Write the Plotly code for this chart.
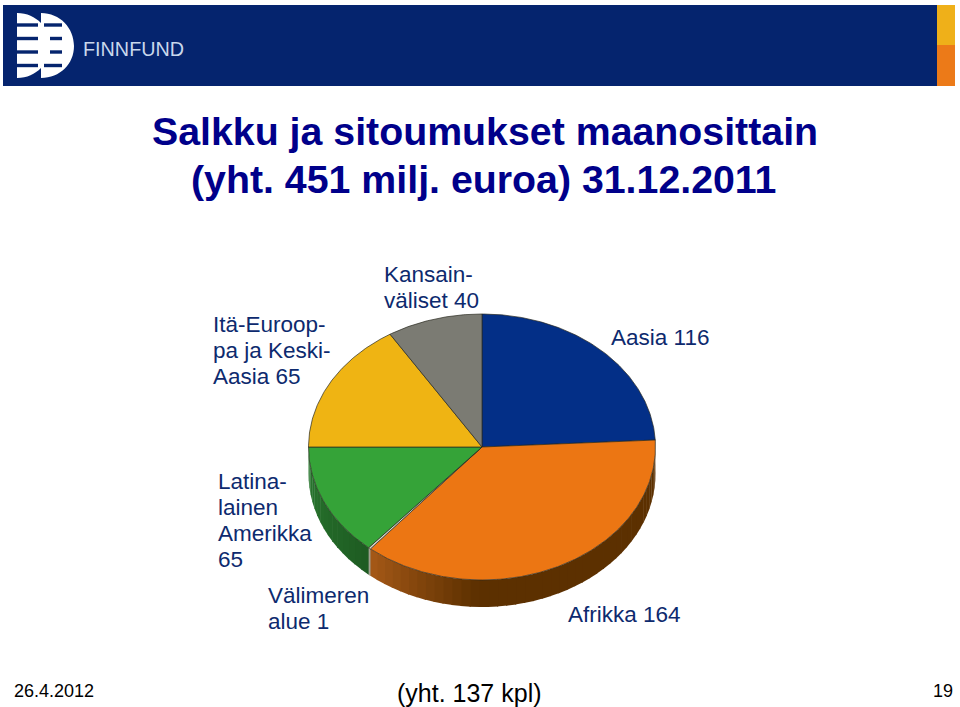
import numpy as np
import plotly.graph_objects as go

# ---- chart data -------------------------------------------------------
categories = ["Aasia", "Afrikka", "Välimeren alue", "Latinalainen Amerikka",
              "Itä-Eurooppa ja Keski-Aasia", "Kansainväliset"]
values = [116, 164, 1, 65, 65, 40]
# sweep of each slice as drawn in the picture (3-D view), degrees
drawn_sweep = [87.0, 133.0, 0.8, 49.2, 58.0, 32.0]
face_colors = ["#032f87", "#ec7613", "#d8d8c8", "#35a338", "#efb413", "#7b7b73"]
wall_start = ["#032f87", "#a85a18", "#a0a090", "#1e5c22", "#efb413", "#7b7b73"]
wall_end = ["#032f87", "#5c3000", "#a0a090", "#2a7a30", "#efb413", "#7b7b73"]

title_lines = ["Salkku ja sitoumukset maanosittain", "(yht. 451 milj. euroa) 31.12.2011"]
label_lines = [["Aasia 116"], ["Afrikka 164"], ["Välimeren", "alue 1"],
               ["Latina-", "lainen", "Amerikka", "65"],
               ["Itä-Euroop-", "pa ja Keski-", "Aasia 65"], ["Kansain-", "väliset 40"]]
label_x = [609, 566, 266, 216, 211, 382]
label_y = [337, 614, 595, 481, 324, 274]
LINE_STEP = 26.2

# ---- geometry of the tilted pie ---------------------------------------
CX, CY, RX, RY, DEPTH = 482.0, 447.0, 173.5, 133.0, 27.0


def ex(t):
    return CX + RX * np.sin(np.radians(t))


def ey(t):
    return CY - RY * np.cos(np.radians(t))


def mix(a, b, f):
    ca = [int(a[i:i + 2], 16) for i in (1, 3, 5)]
    cb = [int(b[i:i + 2], 16) for i in (1, 3, 5)]
    return "rgb(%d,%d,%d)" % tuple(round(x + (y - x) * f) for x, y in zip(ca, cb))


edges = np.concatenate([[0.0], np.cumsum(drawn_sweep)])
fig = go.Figure()

# side wall, drawn as many thin strips for the shaded look
for i, (a, b) in enumerate(zip(edges[:-1], edges[1:])):
    lo, hi = max(a, 90.0), min(b, 270.0)
    if lo >= hi:
        continue
    n = max(1, int((hi - lo) / 3))
    steps = np.linspace(lo, hi, n + 1)
    for j, (s0, s1) in enumerate(zip(steps[:-1], steps[1:])):
        if categories[i] == "Afrikka":
            f = min(1.0, max(0.0, (219.8 - s0) / 40.0))
        else:
            f = j / n
        ts = np.linspace(s0, s1 + 0.4, 6)
        xs = np.concatenate([ex(ts), ex(ts[::-1])])
        ys = np.concatenate([ey(ts), ey(ts[::-1]) + DEPTH])
        fig.add_trace(go.Scatter(x=xs, y=ys, mode="lines", fill="toself",
                                 fillcolor=mix(wall_start[i], wall_end[i], f),
                                 line=dict(width=0), hoverinfo="skip", showlegend=False))

# top faces
for i, (a, b) in enumerate(zip(edges[:-1], edges[1:])):
    ts = np.linspace(a, b, max(3, int(b - a) * 2))
    xs = np.concatenate([[CX], ex(ts), [CX]])
    ys = np.concatenate([[CY], ey(ts), [CY]])
    fig.add_trace(go.Scatter(x=xs, y=ys, mode="lines", fill="toself",
                             fillcolor=face_colors[i],
                             line=dict(color="#2a2a20", width=0.7),
                             name=categories[i], text=str(values[i]), hoverinfo="name+text",
                             showlegend=False))

# ---- header band and logo ---------------------------------------------
NAVY = "#05246e"
shapes = [
    dict(type="rect", x0=3, x1=937, y0=5, y1=86, fillcolor=NAVY, line_width=0, layer="below"),
    dict(type="rect", x0=937, x1=955, y0=5, y1=45, fillcolor="#efb019", line_width=0, layer="below"),
    dict(type="rect", x0=937, x1=955, y0=45, y1=86, fillcolor="#ec7a18", line_width=0, layer="below"),
    dict(type="path",
         path="M 17 13 C 27 13 35 17 41 23 L 41 13 C 60 13 74 28 74 46 C 74 64 60 78 41 78 "
              "L 41 68 C 35 74 27 78 17 78 Z",
         fillcolor="white", line_width=0, layer="below"),
]
for yy in (25, 38.5, 52, 65.5):
    shapes.append(dict(type="rect", x0=17, x1=38, y0=yy - 1.7, y1=yy + 1.7,
                       fillcolor=NAVY, line_width=0, layer="below"))
    shapes.append(dict(type="rect", x0=44 if yy in (25, 65.5) else 50, x1=62, y0=yy - 1.7, y1=yy + 1.7,
                       fillcolor=NAVY, line_width=0, layer="below"))

TEXT = "Liberation Sans"
ann = [
    dict(x=81, y=49, text="FINNFUND", xanchor="left", yanchor="middle", showarrow=False,
         font=dict(family=TEXT, size=19.8, color="#c9d8ec")),
    dict(x=484.5, y=131, text="<b>" + title_lines[0] + "</b>", xanchor="center", yanchor="middle",
         showarrow=False, font=dict(family=TEXT, size=39.3, color="#00008a")),
    dict(x=483.5, y=179, text="<b>" + title_lines[1] + "</b>", xanchor="center", yanchor="middle",
         showarrow=False, font=dict(family=TEXT, size=39.3, color="#00008a")),
    dict(x=12, y=691, text="26.4.2012", xanchor="left", yanchor="middle", showarrow=False,
         font=dict(family=TEXT, size=18, color="black")),
    dict(x=469, y=693, text="(yht. 137 kpl)", xanchor="center", yanchor="middle", showarrow=False,
         font=dict(family=TEXT, size=25, color="black")),
    dict(x=955, y=691, text="19", xanchor="right", yanchor="middle", showarrow=False,
         font=dict(family=TEXT, size=18, color="black")),
]
for lines, x, y in zip(label_lines, label_x, label_y):
    for k, line in enumerate(lines):
        ann.append(dict(x=x, y=y + k * LINE_STEP, text=line, xanchor="left", yanchor="middle",
                        align="left", showarrow=False,
                        font=dict(family=TEXT, size=22.5, color="#0d2a6e")))

fig.update_layout(
    width=960, height=707, margin=dict(l=0, r=0, t=0, b=0, autoexpand=False),
    paper_bgcolor="white", plot_bgcolor="white", showlegend=False,
    xaxis=dict(range=[0, 960], visible=False, fixedrange=True),
    yaxis=dict(range=[707, 0], visible=False, fixedrange=True),
    shapes=shapes, annotations=ann,
)
fig.write_html("out.html", config=dict(displayModeBar=False),
               post_script="document.body.style.margin='0';document.body.style.overflow='hidden';")
